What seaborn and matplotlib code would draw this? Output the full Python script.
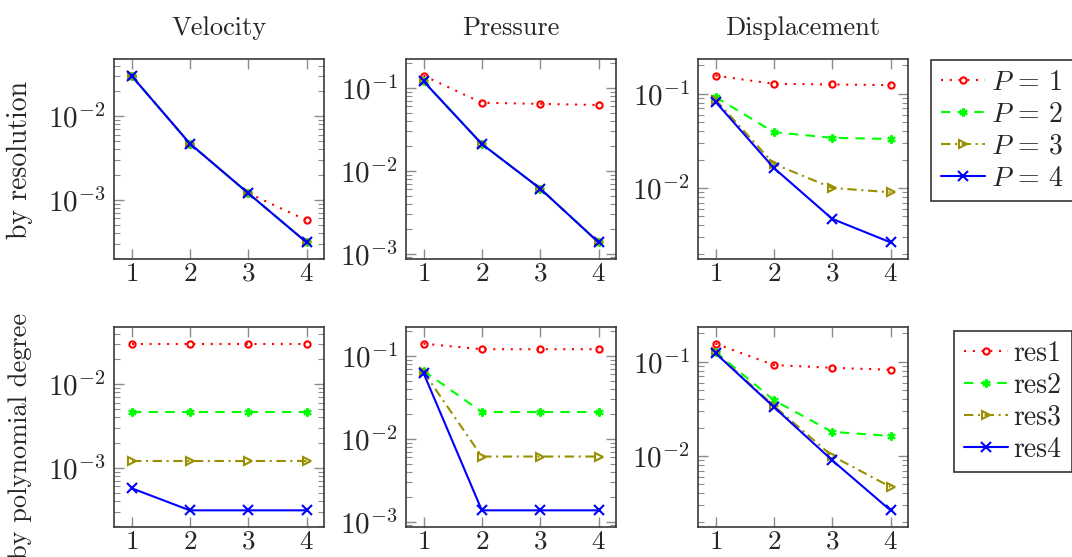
import numpy as np
import pandas as pd
import matplotlib
matplotlib.use("Agg")
import matplotlib.pyplot as plt
import matplotlib.ticker as mticker
import seaborn as sns

# ---------------- data ----------------
resolutions = [1, 2, 3, 4]
degrees = [1, 2, 3, 4]
quantities = ["Velocity", "Pressure", "Displacement"]

# error[P][res]  (rows: P = 1..4, columns: resolution 1..4)
velocity_P1 = [0.0305, 0.0047, 0.0012, 0.00057]
velocity_P2 = [0.0305, 0.0047, 0.0012, 0.00031]
velocity_P3 = [0.0305, 0.0047, 0.0012, 0.00031]
velocity_P4 = [0.0305, 0.0047, 0.0012, 0.00031]

pressure_P1 = [0.14, 0.066, 0.064, 0.062]
pressure_P2 = [0.12, 0.021, 0.0061, 0.00137]
pressure_P3 = [0.12, 0.021, 0.0061, 0.00137]
pressure_P4 = [0.12, 0.021, 0.0061, 0.00137]

displacement_P1 = [0.155, 0.127, 0.125, 0.123]
displacement_P2 = [0.092, 0.039, 0.034, 0.033]
displacement_P3 = [0.086, 0.018, 0.010, 0.0090]
displacement_P4 = [0.082, 0.0163, 0.0047, 0.00265]

top_labels = [r"$P\,=\,1$", r"$P\,=\,2$", r"$P\,=\,3$", r"$P\,=\,4$"]
bottom_labels = ["res1", "res2", "res3", "res4"]
row_labels = ["by resolution", "by polynomial degree"]

tables = {
    "Velocity": np.array([velocity_P1, velocity_P2, velocity_P3, velocity_P4]),
    "Pressure": np.array([pressure_P1, pressure_P2, pressure_P3, pressure_P4]),
    "Displacement": np.array([displacement_P1, displacement_P2, displacement_P3, displacement_P4]),
}

# ---------------- style ----------------
sns.set_theme(style="white")
plt.rcParams["font.family"] = ["cmr10", "DejaVu Serif"]
plt.rcParams["mathtext.fontset"] = "cm"
plt.rcParams["axes.formatter.use_mathtext"] = True

colors = ["#ff0000", "#00ff00", "#9a8f00", "#0000ff"]
linestyles = [(0, (1, 3.2)), (0, (4.5, 3.5)), (0, (4.5, 2.2, 1, 2.2)), "-"]
markers = ["o", (6, 2, 0), ">", "x"]
mfc = ["none", "#00ff00", "none", "#0000ff"]
msizes = [4.5, 6, 5.5, 7.5]

fig = plt.figure(figsize=(10.72, 5.57), dpi=100)

lefts = [114 / 1072, 406 / 1072, 698 / 1072]
width = 210 / 1072
bottoms = [1 - 259 / 557, 1 - 527 / 557]
height = 200 / 557

TICK_FS = 21
TITLE_FS = 19


def log_fmt(v, pos):
    e = int(round(np.log10(v)))
    return r"$10^{%d}$" % e


axes_grid = []
for r in range(2):
    row = []
    for c, q in enumerate(quantities):
        ax = fig.add_axes([lefts[c], bottoms[r], width, height])
        tab = tables[q]
        data = tab if r == 0 else tab.T
        labels = top_labels if r == 0 else bottom_labels
        xs = resolutions if r == 0 else degrees
        for i in range(4):
            df = pd.DataFrame({"x": xs, "y": data[i]})
            sns.lineplot(data=df, x="x", y="y", ax=ax, color=colors[i],
                         linestyle=linestyles[i], linewidth=1.5,
                         marker=markers[i], markersize=msizes[i],
                         markerfacecolor=mfc[i], markeredgecolor=colors[i],
                         markeredgewidth=1.5, label=labels[i], zorder=2 + i)
        ax.set_yscale("log")
        lo = np.log10(data.min())
        hi = np.log10(data.max())
        pad = 0.1 * (hi - lo)
        ax.set_ylim(10 ** (lo - pad), 10 ** (hi + pad))
        ax.set_xlim(0.7, 4.3)
        ax.set_xticks([1, 2, 3, 4])
        ax.xaxis.set_major_formatter(mticker.FuncFormatter(lambda v, p: r"$%d$" % int(round(v))))
        ax.yaxis.set_major_locator(mticker.LogLocator(base=10, numticks=10))
        ax.yaxis.set_minor_locator(mticker.LogLocator(base=10, subs=np.arange(2, 10), numticks=20))
        ax.yaxis.set_major_formatter(mticker.FuncFormatter(log_fmt))
        ax.yaxis.set_minor_formatter(mticker.NullFormatter())
        ax.set_xlabel("")
        ax.set_ylabel("")
        ax.tick_params(axis="both", which="major", direction="in", length=7, width=1.0,
                       color="#8c8c8c", labelsize=TICK_FS, top=True, right=True,
                       bottom=True, left=True, pad=6)
        ax.tick_params(axis="x", which="major", labelsize=19.5, pad=2)
        ax.tick_params(axis="y", which="minor", direction="in", length=4, width=0.8,
                       color="#8c8c8c", left=True, right=True)
        for s in ax.spines.values():
            s.set_color("#3a3a3a")
            s.set_linewidth(1.2)
        if ax.get_legend() is not None:
            ax.get_legend().remove()
        if r == 0:
            ax.set_title(q, fontsize=TITLE_FS, pad=17)
        row.append(ax)
    axes_grid.append(row)

# legends
legend_kw = dict(frameon=True, fancybox=False, edgecolor="#333333", fontsize=TITLE_FS + 1,
                 handlelength=1.6, handletextpad=0.2, labelspacing=0.2,
                 borderpad=0.35, borderaxespad=0.0, numpoints=1)
h, l = axes_grid[0][2].get_legend_handles_labels()
leg1 = fig.legend(h, l, loc="upper left", bbox_to_anchor=(931 / 1072, 1 - 60 / 557), **legend_kw)
h, l = axes_grid[1][2].get_legend_handles_labels()
leg2 = fig.legend(h, l, loc="upper left", bbox_to_anchor=(954 / 1072, 1 - 331 / 557), **legend_kw)
for leg in (leg1, leg2):
    leg.get_frame().set_linewidth(1.2)
    leg.get_frame().set_alpha(1)

fig.text(20 / 1072, 1 - 160 / 557, row_labels[0], rotation=90, va="center", ha="center",
         fontsize=20)
fig.text(20 / 1072, 1 - 436 / 557, row_labels[1], rotation=90, va="center", ha="center",
         fontsize=19)

fig.savefig("out.png", dpi=100)
